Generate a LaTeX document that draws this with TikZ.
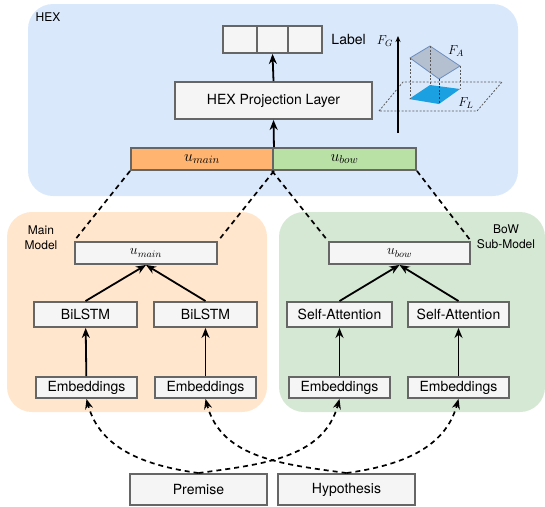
\RequirePackage{fix-cm}
\documentclass[tikz,border=0pt]{standalone}
\usepackage{fontspec}
\setmainfont{TeX Gyre Heros}
\usepackage{xcolor}
\usetikzlibrary{arrows.meta,positioning,calc}
\definecolor{hexwash}{HTML}{DAE8FC}
\definecolor{mainwash}{HTML}{FFE6CC}
\definecolor{bowwash}{HTML}{D5E8D4}
\definecolor{boxline}{HTML}{666666}
\definecolor{boxfill}{HTML}{F5F5F5}
\definecolor{mainbar}{HTML}{FFB570}
\definecolor{bowbar}{HTML}{B9E0A5}
\definecolor{planeA}{HTML}{B4BFCF}
\definecolor{planeedge}{HTML}{6C8EBF}
\definecolor{planeL}{HTML}{1BA1E2}

\begin{document}
\begin{tikzpicture}[x=1pt, y=-1pt,
  box/.style={draw=boxline, fill=boxfill, line width=1.9pt, inner sep=0pt, font=\fontsize{14}{16}\selectfont},
  tag/.style={font=\fontsize{12}{15}\selectfont, align=center},
  flow/.style={-{Stealth[length=10pt,width=8pt]}, line width=1.8pt},
  link/.style={dash pattern=on 5pt off 4pt, line width=1.7pt},
  guide/.style={dash pattern=on 2pt off 1.6pt, line width=0.8pt, color=black!65}]
  \useasboundingbox (0,0) rectangle (545,506);

  % the three regions
  \fill[hexwash, rounded corners=25pt] (28,4) rectangle (518,196);
  \fill[mainwash, rounded corners=25pt] (7,212) rectangle (267,412);
  \fill[bowwash, rounded corners=25pt] (279,212) rectangle (545,412);
  \node[tag] (hextag) at (48,17) {HEX};
  \node[tag] (maintag) at (41,238) {Main\\Model};
  \node[tag] (bowtag) at (506,237) {BoW\\Sub-Model};

  % HEX part
  \node[box, minimum width=34pt, minimum height=27pt] (cell1) at (240,39.5) {};
  \node[box, minimum width=31pt, minimum height=27pt] (cell2) at (272.5,39.5) {};
  \node[box, minimum width=34pt, minimum height=27pt] (cell3) at (305,39.5) {};
  \node[font=\fontsize{14}{16}\selectfont, right=5pt of cell3] (labeltxt) {Label};
  \node[box, minimum width=197pt, minimum height=37pt] (proj) at (273.5,100.5) {HEX Projection Layer};
  \node[box, fill=mainbar, minimum width=142pt, minimum height=22pt, font=\fontsize{16}{18}\selectfont] (hmain) at (202,159) {$u_{main}$};
  \node[box, fill=bowbar, minimum width=143pt, minimum height=22pt, font=\fontsize{16}{18}\selectfont] (hbow) at (344.5,159) {$u_{bow}$};
  \draw[flow] (proj.north) -- (cell2.south);
  \draw[flow] (hmain.north east) -- (proj.south);

  % small sketch of the planes
  \coordinate (axbot) at (398,133);
  \coordinate (axtop) at (398,36);
  \draw[guide] (379,111) -- (403,82) -- (502,82) -- (477,111) -- cycle;
  \fill[planeL] (409,99) -- (430,85) -- (460,89) -- (439,104) -- cycle;
  \filldraw[fill=planeA, draw=planeedge, line width=0.8pt] (410,58) -- (430,46) -- (460,66) -- (439,79) -- cycle;
  \draw[guide] (410,58) -- (410,99);
  \draw[guide] (430,46) -- (430,85);
  \draw[guide] (460,66) -- (460,89);
  \draw[guide, color=black!80] (439,79) -- (439,104);
  \draw[-{Stealth[length=6pt,width=5pt]}, line width=1.3pt] (axbot) -- (axtop);
  \node[font=\fontsize{13}{15}\selectfont] (fg) at (385,41) {$F_G$};
  \node[font=\fontsize{13}{15}\selectfont] (fa) at (456,51) {$F_A$};
  \node[font=\fontsize{13}{15}\selectfont] (fl) at (466,103) {$F_L$};

  % main model
  \node[box, minimum width=142pt, minimum height=22pt, font=\fontsize{14}{16}\selectfont] (umain) at (146,253) {$u_{main}$};
  \node[box, minimum width=103pt, minimum height=25pt] (lstm1) at (85.5,314.5) {BiLSTM};
  \node[box, minimum width=103pt, minimum height=25pt] (lstm2) at (205.5,314.5) {BiLSTM};
  \node[box, minimum width=101pt, minimum height=21pt] (emb1) at (86.5,387.5) {Embeddings};
  \node[box, minimum width=101pt, minimum height=21pt] (emb2) at (205.5,387.5) {Embeddings};
  \draw[flow] (emb1) -- (lstm1);
  \draw[flow] (emb2) -- (lstm2);
  \draw[flow] (lstm1.north) -- (umain.south);
  \draw[flow] (lstm2.north) -- (umain.south);

  % bow sub-model
  \node[box, minimum width=141pt, minimum height=22pt, font=\fontsize{14}{16}\selectfont] (ubow) at (399.5,253) {$u_{bow}$};
  \node[box, minimum width=105pt, minimum height=25pt] (att1) at (339.5,314.5) {Self-Attention};
  \node[box, minimum width=101pt, minimum height=25pt] (att2) at (458.5,314.5) {Self-Attention};
  \node[box, minimum width=101pt, minimum height=21pt] (emb3) at (339.5,387.5) {Embeddings};
  \node[box, minimum width=101pt, minimum height=21pt] (emb4) at (458.5,387.5) {Embeddings};
  \draw[flow] (emb3) -- (att1);
  \draw[flow] (emb4) -- (att2);
  \draw[flow] (att1.north) -- (ubow.south);
  \draw[flow] (att2.north) -- (ubow.south);

  % HEX bar to the models
  \draw[link] (hmain.south west) -- (umain.north west);
  \draw[link] (hmain.south east) -- (umain.north east);
  \draw[link] (hbow.south west) -- (ubow.north west);
  \draw[link] (hbow.south east) -- (ubow.north east);

  % inputs
  \node[box, minimum width=137pt, minimum height=31pt] (premise) at (198.5,489.5) {Premise};
  \node[box, minimum width=137pt, minimum height=31pt] (hypo) at (346.5,489.5) {Hypothesis};
  \draw[link, -{Stealth[length=10pt,width=8pt]}] (premise.north) to[out=172, in=-75] (emb1.south);
  \draw[link, -{Stealth[length=10pt,width=8pt]}] (premise.north) to[out=8, in=-105] (emb3.south);
  \draw[link, -{Stealth[length=10pt,width=8pt]}] (hypo.north) to[out=172, in=-75] (emb2.south);
  \draw[link, -{Stealth[length=10pt,width=8pt]}] (hypo.north) to[out=8, in=-105] (emb4.south);
\end{tikzpicture}
\end{document}
